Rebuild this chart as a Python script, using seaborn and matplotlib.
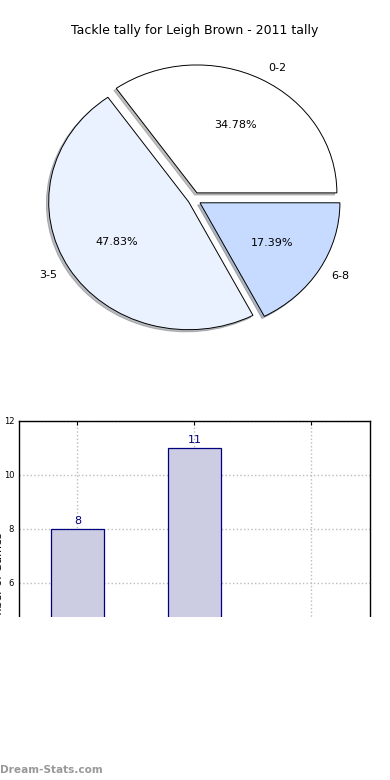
import matplotlib
matplotlib.use('Agg')
import matplotlib.pyplot as plt
import seaborn as sns
import pandas as pd

# tally data
categories = ['0-2', '3-5', '6-8']
games = [8, 11, 4]
pie_colors = ['#FFFFFF', '#EAF1FF', '#C6DBFF']

sns.set_style('white')
plt.rcParams['font.family'] = ['DejaVu Sans']
plt.rcParams['text.color'] = 'black'
plt.rcParams['xtick.color'] = 'black'
plt.rcParams['ytick.color'] = 'black'
plt.rcParams['axes.labelcolor'] = 'black'

fig = plt.figure(figsize=(3.9, 7.8), dpi=100)

# pie at the top
ax_pie = fig.add_axes([0.0474, 0.5397, 0.897, 0.410])
ax_pie.pie(games, labels=categories, colors=pie_colors, autopct='%.2f%%',
           explode=[0.055, 0.04, 0.055],
           shadow={'ox': -0.012, 'oy': -0.012, 'shade': 0.5}, startangle=0,
           wedgeprops={'edgecolor': 'black', 'linewidth': 0.7},
           textprops={'fontsize': 8, 'color': 'black'})
ax_pie.set_aspect('auto')
fig.text(0.5, 0.961, 'Tackle tally for Leigh Brown - 2011 tally', ha='center', va='center',
         fontsize=9, color='black')

# bar chart below
df = pd.DataFrame({'range': categories, 'games': games})
ax_bar = fig.add_axes([0.0487, 0.0449, 0.9, 0.4154])
sns.barplot(data=df, x='range', y='games', width=0.45, color='#CCCCE3',
            edgecolor='navy', linewidth=0.9, saturation=1, ax=ax_bar)
ax_bar.bar_label(ax_bar.containers[0], color='navy', fontsize=8, padding=2)
ax_bar.set_xlim(-0.5, 2.5)
ax_bar.set_ylim(0, 12)
ax_bar.set_yticks([0, 2, 4, 6, 8, 10, 12])
ax_bar.tick_params(axis='y', labelsize=6, direction='in', length=3)
ax_bar.tick_params(axis='x', labelbottom=False, direction='in', length=3, top=True)
ax_bar.grid(True, linestyle=':', color='#BBBBBB', linewidth=1)
for s in ax_bar.spines.values():
    s.set_color('black')
    s.set_linewidth(1)
ax_bar.set_xlabel('')
ax_bar.set_ylabel('Number of Games', fontsize=8)
ax_bar.yaxis.set_label_coords(-0.044, 0.5)

# lower part of the image is blank
fig.patches.append(plt.Rectangle((0, 0), 1, 1 - 617 / 780, transform=fig.transFigure,
                                 facecolor='white', edgecolor='none', zorder=10))
fig.text(0.0, 0.0065, 'Dream-Stats.com', ha='left', va='bottom', fontsize=7.6,
         color='#999999', fontweight='bold', zorder=11)

fig.savefig('out.png', dpi=100)
